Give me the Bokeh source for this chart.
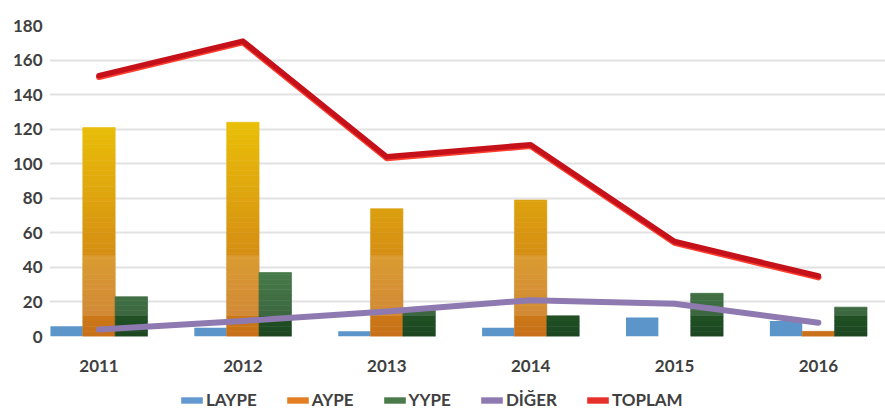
import numpy as np
from bokeh.plotting import figure
from bokeh.layouts import column
from bokeh.models import ColumnDataSource, FixedTicker, Legend, LegendItem, Range1d
from bokeh.embed import file_html
from bokeh.resources import INLINE

# ---- data ----
years = ["2011", "2012", "2013", "2014", "2015", "2016"]
laype = [6, 5, 3, 5, 11, 9]
aype = [121, 124, 74, 79, 0, 3]
yype = [23, 37, 15, 12, 25, 17]
diger = [4, 9, 14.5, 21, 19, 8]
toplam = [151, 171, 104, 111, 55, 35]
y_ticks = [0, 20, 40, 60, 80, 100, 120, 140, 160, 180]
names = ["LAYPE", "AYPE", "YYPE", "DİĞER", "TOPLAM"]

# ---- styles ----
FONT = "Lato"
TXT = "#404040"
C_LAYPE = "#5B95CA"
C_AYPE_LO, C_AYPE_HI = (200, 112, 26), (234, 192, 8)
C_YYPE_LO, C_YYPE_HI = (27, 70, 32), (48, 108, 50)
C_DIGER = "#8E7AB0"
C_TOPLAM = "#C5121A"
C_TOPLAM_SH = "#FF2A1A"
lcolors = ["#6399D0", "#E37F22", "#4A7A4A", "#8E79B0", "#E8302A"]

BW = 0.225
xs = [float(i) for i in range(len(years))]


def mix(lo, hi, t):
    t = min(max(t, 0.0), 1.0)
    return "#%02x%02x%02x" % tuple(int(round(a + (b - a) * t)) for a, b in zip(lo, hi))


def gradient_source(values, offset, lo, hi, vmax, step=3.0):
    d = dict(x=[], bottom=[], top=[], color=[])
    for i, v in enumerate(values):
        if v <= 0:
            continue
        edges = list(np.arange(0, v, step)) + [v]
        for b, t in zip(edges[:-1], edges[1:]):
            d["x"].append(float(i + offset))
            d["bottom"].append(float(b))
            d["top"].append(float(t))
            d["color"].append(mix(lo, hi, (b + t) / 2 / vmax))
    return ColumnDataSource(d)


def shine_source(values, offset, lo=12, hi=47):
    d = dict(x=[], bottom=[], top=[])
    for i, v in enumerate(values):
        if v > lo:
            d["x"].append(float(i + offset))
            d["bottom"].append(float(lo))
            d["top"].append(float(min(v, hi)))
    return ColumnDataSource(d)


p = figure(width=885, height=380, output_backend="svg", toolbar_location=None,
           x_range=Range1d(-0.344, 5.466), y_range=Range1d(0, 180),
           min_border_left=49, min_border_right=0, min_border_top=25,
           min_border_bottom=44, outline_line_color=None)

# grid / axes
p.xgrid.visible = False
p.ygrid.ticker = FixedTicker(ticks=y_ticks)
p.ygrid.grid_line_color = "#E2E2E2"
p.ygrid.grid_line_width = 2

p.yaxis.ticker = FixedTicker(ticks=y_ticks)
p.xaxis.ticker = FixedTicker(ticks=list(range(len(years))))
p.xaxis.major_label_overrides = {i: y for i, y in enumerate(years)}
for ax in (p.xaxis, p.yaxis):
    ax.axis_line_color = None
    ax.major_tick_line_color = None
    ax.minor_tick_line_color = None
    ax.major_tick_out = 0
    ax.major_tick_in = 0
    ax.major_label_text_font = FONT
    ax.major_label_text_font_style = "bold"
    ax.major_label_text_font_size = "17px"
    ax.major_label_text_color = TXT
p.yaxis.major_label_standoff = 7
p.xaxis.major_label_standoff = 23

# bars
p.vbar(x=[x - BW for x in xs], top=laype, width=BW, fill_color=C_LAYPE, line_color=None)

src_a = gradient_source(aype, 0.0, C_AYPE_LO, C_AYPE_HI, 125)
p.vbar(x="x", bottom="bottom", top="top", width=BW, source=src_a,
       fill_color="color", line_color="color", line_width=0.6)
p.vbar(x="x", bottom="bottom", top="top", width=BW, source=shine_source(aype, 0.0),
       fill_color="white", fill_alpha=0.13, line_color=None)

src_y = gradient_source(yype, BW, C_YYPE_LO, C_YYPE_HI, 40)
p.vbar(x="x", bottom="bottom", top="top", width=BW, source=src_y,
       fill_color="color", line_color="color", line_width=0.6)
p.vbar(x="x", bottom="bottom", top="top", width=BW, source=shine_source(yype, BW),
       fill_color="white", fill_alpha=0.12, line_color=None)

# lines
p.line(xs, diger, line_color=C_DIGER, line_width=6, line_join="round", line_cap="round")
p.line(xs, [v - 0.8 for v in toplam], line_color=C_TOPLAM_SH, line_width=6,
       line_join="round", line_cap="round", line_alpha=0.9)
p.line(xs, toplam, line_color=C_TOPLAM, line_width=5.5, line_join="round", line_cap="round")

# ---- legend strip (separate figure below the chart) ----
lg = figure(width=885, height=36, output_backend="svg", toolbar_location=None,
            x_axis_type=None, y_axis_type=None, x_range=Range1d(0, 1), y_range=Range1d(0, 1),
            min_border=0, outline_line_color=None)
lg.grid.visible = False
items = []
for n, c in zip(names, lcolors):
    r = lg.vbar(x=[-5.0], bottom=[0.0], top=[0.0], width=0.0, fill_color=c, line_color=None)
    items.append(LegendItem(label=n, renderers=[r]))

legend = Legend(items=items, orientation="horizontal", location=(129, 6),
                glyph_width=27, glyph_height=8, label_standoff=1, spacing=27,
                padding=0, margin=0, border_line_color=None, background_fill_alpha=0,
                label_text_font=FONT, label_text_font_style="bold",
                label_text_font_size="17px", label_text_color=TXT)
lg.add_layout(legend, "center")

layout = column(p, lg, spacing=0)
open("out.html", "w").write(file_html(layout, INLINE))
